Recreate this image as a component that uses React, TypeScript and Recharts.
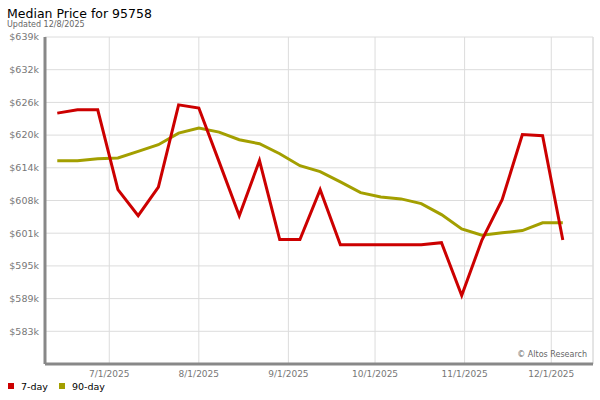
import React from 'react';
import { LineChart, Line, XAxis, YAxis, CartesianGrid, ReferenceLine } from 'recharts';

const dates = [
  '2025-06-13', '2025-06-20', '2025-06-27', '2025-07-04', '2025-07-11', '2025-07-18', '2025-07-25',
  '2025-08-01', '2025-08-08', '2025-08-15', '2025-08-22', '2025-08-29', '2025-09-05', '2025-09-12',
  '2025-09-19', '2025-09-26', '2025-10-03', '2025-10-10', '2025-10-17', '2025-10-24', '2025-10-31',
  '2025-11-07', '2025-11-14', '2025-11-21', '2025-11-28', '2025-12-05',
];

const sevenDay = [
  624150, 624770, 624770, 609700, 604800, 610200, 625700,
  625100, 615000, 604800, 615200, 600300, 600300, 609700,
  599300, 599300, 599300, 599300, 599300, 599700, 589750,
  600200, 607800, 620100, 619900, 600200,
];

const ninetyDay = [
  615170, 615170, 615540, 615670, 616920, 618180, 620380,
  621320, 620570, 619120, 618370, 616480, 614230, 613100,
  611160, 609140, 608330, 607960, 607070, 605000, 602310,
  601100, 601560, 601990, 603440, 603440,
];

const xTickDates = ['2025-07-01', '2025-08-01', '2025-09-01', '2025-10-01', '2025-11-01', '2025-12-01'];
const xTickLabels = ['7/1/2025', '8/1/2025', '9/1/2025', '10/1/2025', '11/1/2025', '12/1/2025'];

const yTickValues = [582980, 589150, 595320, 601490, 607660, 613830, 620000, 626170, 632340, 638510];
const yTickLabels = ['$583k', '$589k', '$595k', '$601k', '$608k', '$614k', '$620k', '$626k', '$632k', '$639k'];

const seriesNames = ['7-day', '90-day'];
const seriesColors = ['#cc0000', '#a39f00'];

const DAY = 86400000;
const ts = (s: string) => {
  const [y, m, d] = s.split('-').map(Number);
  return Date.UTC(y, m - 1, d);
};

const data = dates.map((d, i) => ({ t: ts(d), seven: sevenDay[i], ninety: ninetyDay[i] }));
const xTicks = xTickDates.map(ts);
const xMin = ts('2025-07-01') - 22.25 * DAY;
const xMax = ts('2025-12-01') + 14.45 * DAY;

const FONT = '"DejaVu Sans", Verdana, sans-serif';

export default function App() {
  return (
    <div style={{ position: 'absolute', left: 0, top: 0, width: 600, height: 400, background: '#fff', fontFamily: FONT }}>
      <LineChart
        width={600}
        height={400}
        data={data}
        margin={{ top: 37, right: 7, bottom: 16, left: 0 }}
      >
        <CartesianGrid stroke="#dcdcdc" strokeWidth={1} />
        <XAxis
          dataKey="t"
          type="number"
          scale="time"
          domain={[xMin, xMax]}
          ticks={xTicks}
          tickFormatter={(v: number) => xTickLabels[xTicks.indexOf(v)] ?? ''}
          height={20}
          tickLine={false}
          tickSize={5}
          tickMargin={2}
          axisLine={{ stroke: '#888', strokeWidth: 3 }}
          tick={{ fill: '#777', fontSize: 9, fontFamily: FONT }}
          allowDataOverflow
        />
        <YAxis
          type="number"
          domain={[576810, 638510]}
          ticks={yTickValues}
          tickFormatter={(v: number) => yTickLabels[yTickValues.indexOf(v)] ?? ''}
          width={45}
          tickLine={false}
          tickSize={4}
          tickMargin={2}
          axisLine={{ stroke: '#888', strokeWidth: 3 }}
          tick={{ fill: '#777', fontSize: 9.5, fontFamily: FONT }}
          allowDataOverflow
          interval={0}
        />
        <ReferenceLine x={xMax} stroke="#dcdcdc" ifOverflow="extendDomain" />
        <Line
          type="linear"
          dataKey="ninety"
          name={seriesNames[1]}
          stroke={seriesColors[1]}
          strokeWidth={3}
          dot={false}
          isAnimationActive={false}
        />
        <Line
          type="linear"
          dataKey="seven"
          name={seriesNames[0]}
          stroke={seriesColors[0]}
          strokeWidth={3}
          dot={false}
          isAnimationActive={false}
        />
      </LineChart>
      <svg
        width={600}
        height={400}
        style={{ position: 'absolute', left: 0, top: 0, pointerEvents: 'none' }}
        fontFamily={FONT}
      >
        <text x={7} y={18.3} fontSize={12.5} fill="#000">Median Price for 95758</text>
        <text x={7} y={27.3} fontSize={8} fill="#666">Updated 12/8/2025</text>
        <text x={587} y={357} fontSize={8} fill="#666" textAnchor="end">© Altos Research</text>
        <rect x={8} y={383} width={6} height={6} fill={seriesColors[0]} />
        <text x={21} y={389.5} fontSize={9.5} fill="#000">{seriesNames[0]}</text>
        <rect x={59} y={383} width={6} height={6} fill={seriesColors[1]} />
        <text x={72} y={389.5} fontSize={9.5} fill="#000">{seriesNames[1]}</text>
      </svg>
    </div>
  );
}
